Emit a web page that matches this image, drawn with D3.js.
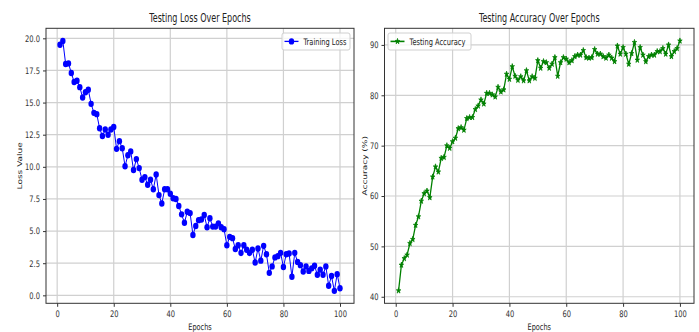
<!DOCTYPE html>
<meta charset="utf-8">
<style>
body{margin:0;background:#fff;}
svg text{font-family:"DejaVu Sans",sans-serif;fill:#222;}
</style>
<svg id="chart" width="699" height="332"></svg>
<script src="https://cdn.jsdelivr.net/npm/d3@7"></script>
<script>
// epochs 1..100
const epochs = d3.range(1, 101)

const lossValues = [
  19.5,19.8,18.0,18.05,17.3,16.6,16.7,16.2,15.4,15.8,
  16.0,14.9,14.2,14.1,13.0,12.4,12.9,12.5,12.9,13.1,
  11.4,12.0,11.45,10.05,10.9,11.2,9.75,10.6,9.9,9.0,
  9.2,8.6,9.0,8.25,9.4,7.8,7.15,8.25,8.25,7.9,
  7.55,7.5,6.95,6.3,5.65,6.5,6.4,4.7,5.4,5.85,
  5.9,6.25,5.3,6.0,5.35,5.35,5.6,5.3,5.15,3.9,
  4.55,4.45,3.6,3.9,3.3,3.9,3.55,3.3,3.55,2.55,
  3.65,2.7,3.85,3.2,1.75,2.25,2.95,3.05,3.3,2.2,
  3.2,3.25,1.45,3.3,2.6,2.35,1.85,2.25,1.9,2.1,
  2.3,1.6,2.0,1.6,2.25,0.75,1.5,0.35,1.65,0.55
]

const accValues = [
  41.2,46.3,47.6,48.3,50.6,51.4,54.2,55.9,59.0,60.5,
  61.0,59.7,63.8,65.8,64.8,67.5,67.7,70.0,69.5,70.8,
  71.5,73.4,73.6,73.1,75.4,75.6,75.6,77.2,77.9,79.1,
  78.3,80.4,80.4,80.1,79.7,81.6,80.7,81.1,84.2,83.2,
  85.7,83.8,83.0,83.7,82.9,84.9,82.9,83.7,83.4,86.9,
  85.4,86.7,86.5,85.4,86.2,87.5,83.8,86.5,87.5,87.2,
  86.5,86.9,87.7,88.0,88.0,88.9,87.5,87.4,87.5,89.1,
  88.2,88.2,87.7,87.4,88.0,87.4,86.7,89.8,88.2,89.5,
  88.2,86.2,88.3,90.5,87.0,89.5,88.0,86.7,87.7,88.0,
  88.0,88.7,88.7,89.3,88.2,90.0,87.7,88.7,89.3,90.8
]

const xTicks = [0, 20, 40, 60, 80, 100]
const lossTicks = [0, 2.5, 5, 7.5, 10, 12.5, 15, 17.5, 20]
const accTicks = [40, 50, 60, 70, 80, 90]

const svg = d3.select('#chart')

// the picture is squeezed sideways, so text gets squeezed too
function squish(sel, k) {
  sel.each(function () {
    const t = d3.select(this)
    const x = +t.attr('x') || 0
    t.attr('transform', `translate(${x * (1 - k)},0) scale(${k},1)`)
  })
}

function panel(opt) {
  const x = d3.scaleLinear().domain([-3.95, 104.95]).range([opt.left, opt.right])
  const y = d3.scaleLinear().domain(opt.yDomain).range([303.3, 28.3])
  const g = svg.append('g')

  // grid
  g.selectAll('line.gx').data(xTicks).join('line')
    .attr('x1', d => x(d)).attr('x2', d => x(d))
    .attr('y1', 28.3).attr('y2', 303.3)
    .attr('stroke', '#d0d0d0').attr('stroke-width', 1.2)
  g.selectAll('line.gy').data(opt.yTicks).join('line')
    .attr('x1', opt.left).attr('x2', opt.right)
    .attr('y1', d => y(d)).attr('y2', d => y(d))
    .attr('stroke', '#d0d0d0').attr('stroke-width', 1.2)

  // axes
  const ax = g.append('g').attr('transform', 'translate(0,303.3)')
    .call(d3.axisBottom(x).tickValues(xTicks).tickSize(3.5).tickPadding(4))
  const ay = g.append('g').attr('transform', `translate(${opt.left},0)`)
    .call(d3.axisLeft(y).tickValues(opt.yTicks).tickFormat(opt.fmt).tickSize(3).tickPadding(3))
  for (const a of [ax, ay]) {
    a.select('.domain').remove()
    a.selectAll('line').attr('stroke', '#333')
    a.selectAll('text').attr('font-size', 9).attr('font-family', null).style('fill', '#333')
    squish(a.selectAll('text'), 0.75)
  }

  g.append('rect')
    .attr('x', opt.left).attr('y', 28.3)
    .attr('width', opt.right - opt.left).attr('height', 275)
    .attr('fill', 'none').attr('stroke', '#333').attr('stroke-width', 1)

  // line + markers
  const pts = epochs.map((e, i) => [e, opt.values[i]])
  g.append('path').datum(pts)
    .attr('d', d3.line().x(d => x(d[0])).y(d => y(d[1])))
    .attr('fill', 'none').attr('stroke', opt.color).attr('stroke-width', opt.lw)
  opt.marker(g.append('g'), pts.map(d => [x(d[0]), y(d[1])]))

  // title + labels
  const cx = (opt.left + opt.right) / 2
  g.append('text').attr('x', cx).attr('y', 22).attr('text-anchor', 'middle')
    .attr('font-size', 11.5).text(opt.title).call(squish, 0.7)
  g.append('text').attr('x', cx).attr('y', 330).attr('text-anchor', 'middle')
    .attr('font-size', 9).text('Epochs').call(squish, 0.73)
  g.append('text').attr('text-anchor', 'middle').attr('font-size', 9)
    .attr('transform', `translate(${opt.ylabX},165.8) scale(0.73,1) rotate(-90)`)
    .text(opt.ylabel)

  // legend
  const lg = g.append('g')
  lg.append('rect').attr('x', opt.leg[0]).attr('y', 33).attr('width', opt.leg[1]).attr('height', 17)
    .attr('rx', 2).attr('fill', '#fff').attr('fill-opacity', 0.8).attr('stroke', '#d0d0d0')
  const lx = opt.leg[0] + 2.5
  lg.append('line').attr('x1', lx).attr('x2', lx + 14).attr('y1', 41.4).attr('y2', 41.4)
    .attr('stroke', opt.color).attr('stroke-width', opt.lw + 0.3)
  opt.marker(lg.append('g'), [[lx + 7, 41.4]])
  lg.append('text').attr('x', lx + 19).attr('y', 44.6).attr('font-size', 9)
    .text(opt.legend).call(squish, 0.74)
}

const dots = (sel, pts) => sel.selectAll('ellipse').data(pts).join('ellipse')
  .attr('cx', d => d[0]).attr('cy', d => d[1]).attr('rx', 2.7).attr('ry', 3.2)
  .attr('fill', '#0000ff')

const stars = (sel, pts) => sel.selectAll('path').data(pts).join('path')
  .attr('d', d3.symbol(d3.symbolStar, 10))
  .attr('transform', d => `translate(${d[0]},${d[1]}) scale(0.8,1)`)
  .attr('fill', '#008000').attr('stroke', '#008000').attr('stroke-width', 0.8)

panel({
  left: 46, right: 354, yDomain: [-0.62, 20.78], yTicks: lossTicks, fmt: d3.format('.1f'),
  values: lossValues, color: '#0000ff', lw: 1, marker: dots,
  title: 'Testing Loss Over Epochs', ylabel: 'Loss Value', ylabX: 22,
  legend: 'Training Loss', leg: [282, 68]
})

panel({
  left: 384.5, right: 694, yDomain: [38.7, 93.3], yTicks: accTicks, fmt: d3.format('d'),
  values: accValues, color: '#008000', lw: 1.3, marker: stars,
  title: 'Testing Accuracy Over Epochs', ylabel: 'Accuracy (%)', ylabX: 367,
  legend: 'Testing Accuracy', leg: [388, 83]
})
</script>
